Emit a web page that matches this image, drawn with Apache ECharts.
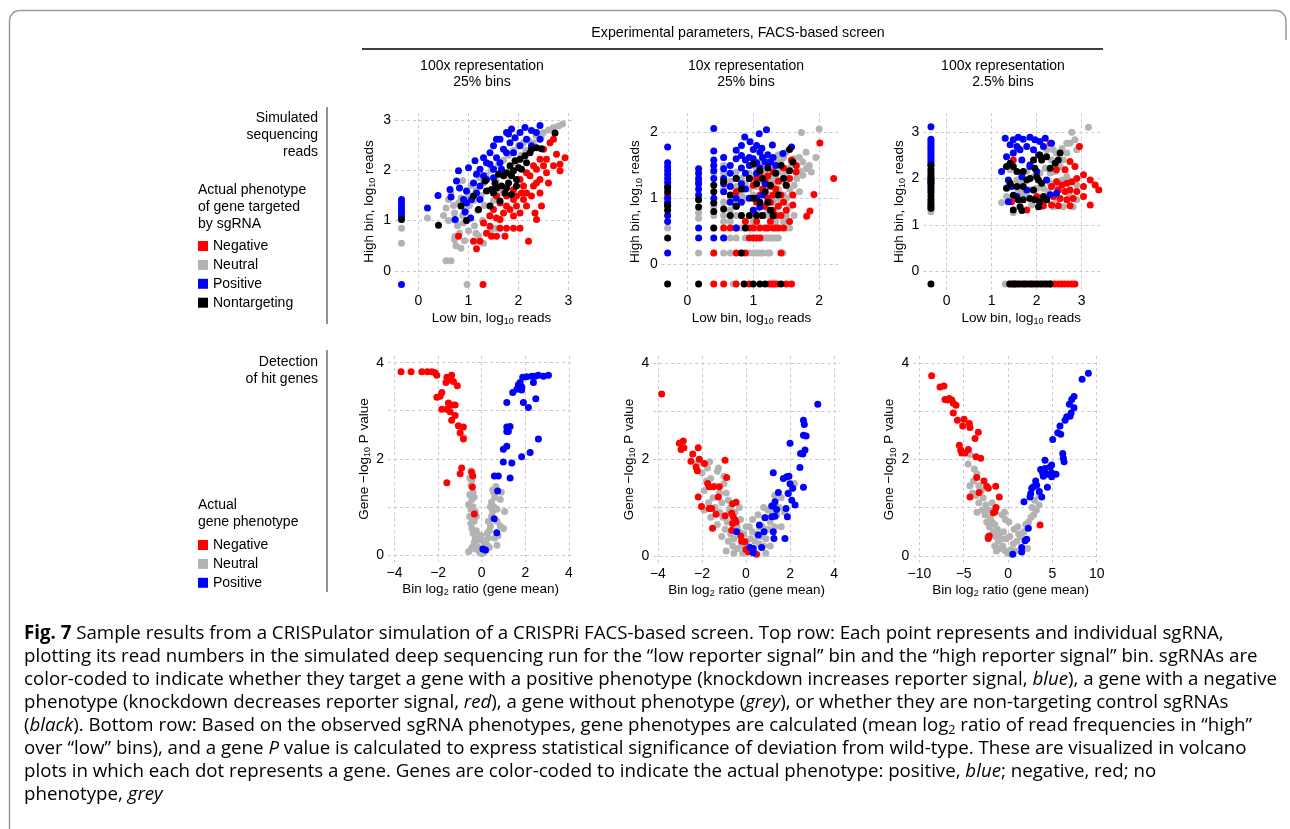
<!DOCTYPE html>
<html><head><meta charset="utf-8">
<script src="https://cdn.jsdelivr.net/npm/echarts@6/dist/echarts.min.js"></script>
<style>html,body{margin:0;padding:0;background:#fff}#c{width:1290px;height:829px}</style>
</head><body><div id="c"></div>
<script>
// ---------- categories ----------
const categoriesTop = ['Negative', 'Neutral', 'Positive', 'Nontargeting'];
const categoriesBottom = ['Negative', 'Neutral', 'Positive'];

// ---------- tick values ----------
const ticksTL = [0, 1, 2, 3];
const ticksTM = [0, 1, 2];
const ticksTR = [0, 1, 2, 3];
const ticksBX = [-4, -2, 0, 2, 4];
const ticksBRX = [-10, -5, 0, 5, 10];
const ticksBY = [0, 1, 2, 3, 4];
const labelsBY = [0, 2, 4];

// ---------- Top-left: 100x representation, 25% bins (low, high log10 reads) ----------
const tlNeutral = [[-0.34,0.85],[-0.34,0.55],[0.97,-0.27],[0.18,1.05],[0.5,1.1],[0.55,1.25],[0.6,1.0],[0.6,1.42],[0.65,1.55],[0.7,1.3],[0.72,1.15],[0.75,1.0],[0.78,0.9],[0.8,1.35],[0.82,0.75],[0.85,1.45],[0.88,1.1],[0.88,1.8],[0.9,0.95],[0.92,0.6],[0.95,1.2],[0.98,1.55],[1.0,0.8],[1.0,1.45],[1.02,1.3],[1.05,1.7],[1.05,1.05],[1.1,1.4],[1.12,0.9],[1.15,1.6],[1.15,0.75],[1.18,1.2],[1.2,0.7],[1.22,1.85],[1.25,1.5],[1.28,1.0],[1.3,1.75],[1.3,0.55],[1.32,1.3],[1.35,1.9],[1.4,1.6],[1.42,1.1],[1.45,2.0],[1.45,0.8],[1.5,1.4],[1.55,1.8],[1.55,0.85],[1.6,2.1],[1.65,1.55],[1.7,2.2],[1.75,1.9],[1.8,2.3],[1.85,2.0],[1.9,2.4],[1.95,2.15],[2.0,2.5],[2.05,2.3],[2.1,2.55],[2.15,2.4],[2.2,2.6],[2.3,2.55],[2.35,2.7],[2.45,2.65],[2.5,2.75],[2.6,2.8],[2.7,2.85],[2.8,2.88],[2.88,2.92],[0.55,0.2],[0.65,0.2],[0.75,0.5],[0.85,0.45],[0.73,0.69],[0.72,0.62]];
const tlNegative = [[1.29,-0.27],[0.8,0.69],[1.1,0.59],[1.16,0.44],[1.23,0.59],[1.36,0.75],[1.46,0.69],[1.56,0.69],[1.73,0.69],[1.63,0.85],[1.76,0.85],[1.9,0.85],[2.03,0.85],[2.36,1.02],[2.2,0.59],[1.43,1.09],[1.56,1.05],[1.7,1.15],[1.83,1.22],[1.96,1.29],[2.1,1.42],[2.16,1.55],[2.3,1.69],[2.43,1.82],[2.56,1.95],[2.7,2.09],[2.83,2.12],[2.93,2.25],[2.76,2.32],[2.63,2.55],[2.7,2.62],[2.5,2.42],[2.43,2.22],[2.3,2.09],[2.16,1.95],[2.03,1.82],[1.9,1.62],[1.76,1.49],[1.63,1.35],[1.76,1.29],[1.96,1.49],[2.1,1.69],[2.23,1.89],[2.36,2.02],[2.5,2.09],[2.56,2.22],[2.26,1.49],[2.43,1.55],[2.16,1.29],[2.03,1.15],[1.9,1.09],[1.5,1.22],[1.3,0.95],[1.43,0.89],[1.9,1.42],[2.06,1.55],[2.36,1.75],[2.6,1.75],[2.83,1.99],[2.46,1.29],[2.33,1.15],[1.63,1.02],[1.56,1.49]];
const tlPositive = [[-0.34,-0.27],[-0.34,1.42],[-0.34,1.35],[-0.34,1.28],[-0.34,1.22],[-0.34,1.15],[-0.34,1.09],[0.18,1.25],[0.39,1.5],[0.65,1.47],[0.63,1.62],[0.8,1.99],[0.82,1.65],[0.93,1.17],[1.0,2.05],[1.04,1.05],[1.13,2.19],[1.16,1.92],[1.23,2.02],[1.3,2.25],[1.36,2.15],[1.43,2.35],[1.5,2.49],[1.56,2.25],[1.63,2.62],[1.7,2.42],[1.76,2.75],[1.83,2.55],[1.86,2.82],[1.93,2.65],[2.03,2.75],[2.13,2.85],[2.26,2.79],[2.36,2.75],[2.43,2.62],[1.63,2.15],[1.5,2.02],[1.36,1.82],[1.23,1.69],[1.1,1.75],[0.96,1.59],[0.9,1.42],[1.06,1.42],[0.76,1.79],[1.76,2.35],[1.9,2.35],[2.03,2.49],[2.16,2.62],[1.56,2.62],[1.8,2.72],[1.43,2.12],[1.3,1.89],[1.16,1.55],[1.5,1.85],[1.66,2.02],[1.23,1.42],[0.96,1.35],[0.73,1.02],[2.43,2.89],[2.26,2.49]];
const tlNontargeting = [[-0.34,1.02],[0.4,0.91],[0.85,1.29],[0.96,1.0],[1.1,1.49],[1.2,1.22],[1.33,1.79],[1.36,1.59],[1.43,1.29],[1.5,1.55],[1.53,1.75],[1.6,1.92],[1.66,1.69],[1.7,1.89],[1.76,1.95],[1.8,1.75],[1.83,2.09],[1.86,1.89],[1.9,1.99],[1.93,2.19],[1.96,1.82],[2.0,2.05],[2.03,2.22],[2.06,2.02],[2.13,2.29],[2.16,2.15],[2.23,2.35],[2.26,2.42],[2.36,2.45],[2.46,2.43],[2.73,2.74],[1.86,1.52],[1.63,1.39],[1.73,1.55],[1.56,1.65],[1.46,1.62],[1.76,1.65],[1.96,1.69]];

// ---------- Top-middle: 10x representation, 25% bins ----------
const tmNeutral = [[-0.3,0.55],[0.17,0.17],[0.17,0.7],[0.17,0.78],[0.17,1.0],[0.4,0.17],[0.4,0.55],[0.4,0.74],[0.4,0.88],[0.4,1.38],[0.55,0.17],[0.55,0.4],[0.55,0.65],[0.55,0.74],[0.55,0.94],[0.55,1.14],[0.55,1.38],[0.55,1.5],[0.65,0.17],[0.65,0.4],[0.65,0.65],[0.65,0.82],[0.65,1.0],[0.65,1.26],[0.74,0.4],[0.74,0.74],[0.74,0.94],[0.74,1.18],[0.74,1.4],[0.82,0.17],[0.82,0.55],[0.82,0.74],[0.82,1.05],[0.82,1.3],[0.7,-0.3],[0.88,0.4],[0.88,0.55],[0.88,1.0],[0.88,1.22],[0.94,0.17],[0.94,0.74],[0.94,1.14],[0.94,1.38],[1.0,0.17],[1.0,0.65],[1.0,1.05],[1.0,1.3],[1.0,1.5],[1.05,0.17],[1.05,0.55],[1.05,0.82],[1.05,1.18],[1.05,1.46],[1.1,0.17],[1.1,0.74],[1.1,0.94],[1.1,1.26],[1.1,1.55],[1.14,0.17],[1.14,0.4],[1.14,0.88],[1.14,1.34],[1.14,1.5],[1.18,0.4],[1.18,0.74],[1.18,1.05],[1.18,1.42],[1.22,0.17],[1.22,0.4],[1.22,0.82],[1.22,1.18],[1.22,1.5],[1.26,0.4],[1.26,0.74],[1.26,1.05],[1.26,1.3],[1.26,1.58],[1.3,0.4],[1.3,0.94],[1.3,1.22],[1.3,1.5],[1.34,0.4],[1.34,0.65],[1.34,1.0],[1.34,1.3],[1.34,1.6],[1.38,0.4],[1.38,0.74],[1.38,1.14],[1.38,1.4],[1.38,1.66],[1.42,0.55],[1.42,0.94],[1.42,1.26],[1.42,1.55],[1.46,0.65],[1.46,1.05],[1.46,1.34],[1.46,1.62],[1.5,0.55],[1.5,0.74],[1.5,1.0],[1.5,1.4],[1.5,1.7],[1.55,0.88],[1.55,1.14],[1.55,1.46],[1.58,1.05],[1.58,1.55],[1.62,0.74],[1.62,1.2],[1.62,1.6],[1.66,1.3],[1.66,1.5],[1.7,1.1],[1.7,1.42],[1.7,1.62],[1.75,1.35],[1.75,1.55],[1.8,1.45],[1.8,1.7],[1.85,1.5],[1.88,1.4],[1.73,2.0],[2.0,2.05],[1.95,1.62],[1.55,0.55],[1.45,0.17],[1.25,0.17]];
const tmNegative = [[-0.3,1.05],[0.17,1.25],[0.4,0.17],[0.4,-0.3],[0.55,0.55],[0.55,-0.3],[0.65,0.55],[0.74,0.55],[0.74,0.17],[0.74,-0.3],[0.74,1.1],[0.88,0.65],[0.88,0.17],[0.94,0.55],[0.94,0.4],[0.94,-0.3],[1.0,0.55],[1.0,0.4],[1.0,0.82],[1.0,1.2],[1.05,0.4],[1.05,0.65],[1.05,0.94],[1.05,1.3],[1.1,0.55],[1.1,0.4],[1.1,1.05],[1.1,1.4],[1.14,0.74],[1.14,1.14],[1.18,0.55],[1.24,-0.3],[1.18,0.88],[1.18,1.26],[1.22,0.55],[1.28,-0.3],[1.22,1.0],[1.22,1.34],[1.26,0.65],[1.26,0.94],[1.26,1.18],[1.3,0.55],[1.32,-0.3],[1.3,0.82],[1.3,1.05],[1.3,1.4],[1.34,0.55],[1.34,0.74],[1.34,1.14],[1.38,0.55],[1.38,0.88],[1.38,1.26],[1.36,-0.3],[1.42,0.17],[1.42,0.74],[1.42,1.05],[1.46,0.55],[1.5,-0.3],[1.46,0.94],[1.46,1.46],[1.5,0.82],[1.5,1.2],[1.58,-0.3],[1.55,0.65],[1.55,1.3],[1.58,1.58],[1.6,0.9],[1.6,1.05],[1.65,1.4],[1.81,0.73],[1.86,0.81],[1.92,1.06],[2.01,1.84],[2.22,1.3],[1.65,1.5]];
const tmPositive = [[-0.3,1.78],[-0.3,1.54],[-0.3,1.48],[-0.3,1.42],[-0.3,1.36],[-0.3,1.3],[-0.3,1.24],[-0.3,1.18],[-0.3,1.0],[-0.3,0.94],[-0.3,0.88],[-0.3,0.74],[-0.3,0.65],[-0.3,0.17],[0.17,1.45],[0.17,1.38],[0.17,1.3],[0.17,1.22],[0.17,1.14],[0.17,1.05],[0.17,0.55],[0.17,0.4],[0.4,2.06],[0.4,1.72],[0.4,1.58],[0.4,1.5],[0.4,1.42],[0.4,1.3],[0.4,1.0],[0.4,0.4],[0.55,1.62],[0.55,1.45],[0.55,1.3],[0.55,1.22],[0.55,1.1],[0.55,0.4],[0.65,1.5],[0.65,1.38],[0.65,1.18],[0.65,0.94],[0.74,1.73],[0.74,1.6],[0.74,1.3],[0.74,1.0],[0.74,0.88],[0.74,0.55],[0.82,1.8],[0.82,1.65],[0.82,1.46],[0.82,1.22],[0.82,0.94],[0.87,1.93],[0.88,1.58],[0.88,1.38],[0.88,1.14],[0.95,1.86],[0.94,1.62],[0.94,1.5],[0.94,1.3],[0.94,1.0],[1.0,1.74],[1.0,1.6],[1.0,0.82],[1.05,1.8],[1.05,1.54],[1.05,1.38],[1.05,1.0],[1.09,1.98],[1.1,1.7],[1.1,1.46],[1.1,0.87],[1.13,1.76],[1.14,1.62],[1.14,1.05],[1.2,2.04],[1.18,1.55],[1.18,1.22],[1.22,1.66],[1.26,1.55],[1.29,1.81],[1.3,1.62],[1.34,1.5],[1.45,1.68],[1.58,1.78]];
const tmNontargeting = [[-0.3,1.16],[-0.3,1.1],[-0.3,0.9],[-0.3,0.82],[-0.3,0.4],[-0.3,-0.3],[0.17,0.98],[0.17,0.87],[0.17,-0.3],[0.4,1.2],[0.4,1.1],[0.4,0.93],[0.4,0.8],[0.4,0.55],[0.55,1.25],[0.55,0.84],[0.65,1.05],[0.65,0.74],[0.74,1.3],[0.74,0.88],[0.82,0.74],[0.82,1.14],[0.86,-0.3],[0.88,0.55],[0.82,0.17],[0.94,1.3],[0.94,0.74],[1.0,-0.3],[1.0,1.52],[1.0,1.0],[1.05,0.74],[1.05,1.22],[1.1,-0.3],[1.1,1.42],[1.1,0.94],[1.14,1.3],[1.18,-0.3],[1.18,1.1],[1.22,1.46],[1.22,0.94],[1.26,1.2],[1.3,0.74],[1.34,1.38],[1.38,1.05],[1.42,-0.3],[1.42,1.5],[1.46,1.3],[1.5,1.2],[1.55,1.42],[1.55,1.74],[1.6,1.55],[1.26,0.82],[1.14,0.74]];

// ---------- Top-right: 100x representation, 2.5% bins ----------
const trNeutral = [[-0.35,1.28],[-0.35,1.34],[1.3,-0.28],[1.38,-0.28],[1.22,1.48],[1.48,1.26],[1.41,2.19],[1.37,1.83],[1.67,1.9],[1.78,2.15],[1.93,2.04],[2.07,2.12],[2.19,2.22],[2.3,2.12],[2.41,2.15],[2.52,2.26],[2.59,2.4],[2.67,2.55],[2.74,2.76],[2.78,3.0],[2.85,2.84],[2.89,2.62],[3.15,3.11],[2.67,2.76],[2.56,2.65],[2.44,2.55],[2.33,2.4],[2.67,2.04],[2.89,1.86],[2.56,1.97],[2.41,1.83],[2.26,1.72],[2.15,1.79],[2.0,1.79],[1.85,1.75],[1.78,1.61],[1.7,1.68],[1.56,1.97],[1.59,1.72],[1.89,1.43],[2.37,1.39],[2.59,1.39],[2.81,1.39],[2.44,1.54],[2.3,1.9],[2.74,1.61],[2.11,1.39],[1.33,1.61],[1.48,2.55],[2.22,2.62],[2.37,2.62],[2.89,1.54]];
const trNegative = [[-0.35,1.95],[2.3,2.76],[1.59,2.65],[2.74,2.37],[2.95,2.69],[3.04,2.08],[3.19,1.97],[3.3,1.86],[3.38,1.75],[3.19,1.43],[2.89,2.0],[2.78,1.93],[2.67,1.9],[2.56,1.86],[2.44,1.93],[2.33,1.83],[2.74,1.75],[2.89,1.72],[3.04,1.83],[2.63,1.72],[2.48,1.75],[2.37,1.61],[2.52,1.57],[2.67,1.54],[2.81,1.57],[2.21,1.54],[2.33,1.43],[2.48,1.41],[2.74,1.41],[2.15,1.41],[2.0,1.61],[2.63,2.19],[2.85,2.26],[2.44,2.19],[1.78,1.32],[1.44,1.5],[1.48,2.4],[2.11,2.44],[3.04,1.61],[1.45,-0.28],[1.55,-0.28],[1.65,-0.28],[1.8,-0.28],[1.95,-0.28],[2.05,-0.28],[2.15,-0.28],[2.25,-0.28],[2.32,-0.28],[2.4,-0.28],[2.48,-0.28],[2.55,-0.28],[2.62,-0.28],[2.7,-0.28],[2.78,-0.28],[2.85,-0.28]];
const trPositive = [[-0.35,3.12],[-0.35,2.85],[-0.35,2.8],[-0.35,2.75],[-0.35,2.7],[-0.35,2.65],[-0.35,2.6],[-0.35,2.55],[-0.35,2.5],[-0.35,2.45],[-0.35,2.4],[-0.35,2.35],[-0.35,2.3],[-0.35,2.15],[-0.35,2.0],[-0.35,1.9],[-0.35,1.8],[1.3,2.87],[1.41,2.73],[1.48,2.84],[1.59,2.89],[1.7,2.85],[1.85,2.89],[1.96,2.84],[2.07,2.8],[2.19,2.87],[1.33,2.47],[1.48,2.55],[1.63,2.62],[1.78,2.69],[1.93,2.62],[2.04,2.51],[1.67,2.4],[1.85,2.29],[1.37,1.97],[1.44,1.83],[1.56,1.61],[1.37,1.5],[1.67,2.04],[1.85,2.26],[2.0,2.15],[2.22,1.97],[2.3,1.65],[2.44,1.68],[1.78,1.75],[1.22,2.15],[1.56,2.69],[2.15,2.69],[2.33,2.76]];
const trNontargeting = [[-0.35,2.28],[-0.35,2.2],[-0.35,2.1],[-0.35,2.05],[-0.35,1.98],[-0.35,1.92],[-0.35,1.85],[-0.35,1.75],[-0.35,1.7],[-0.35,1.62],[-0.35,1.55],[-0.35,1.5],[-0.35,1.45],[-0.35,1.4],[-0.35,1.36],[-0.35,-0.28],[1.4,-0.28],[1.48,-0.28],[1.52,-0.28],[1.6,-0.28],[1.7,-0.28],[1.75,-0.28],[1.85,-0.28],[1.9,-0.28],[2.0,-0.28],[2.1,-0.28],[2.2,-0.28],[2.3,-0.28],[1.41,2.33],[1.33,2.26],[1.48,2.26],[1.56,2.15],[1.7,2.15],[1.85,2.0],[2.0,2.04],[2.04,1.97],[2.11,1.9],[1.93,1.75],[1.78,1.97],[1.7,1.83],[1.56,1.83],[1.41,1.9],[1.33,1.79],[1.48,1.64],[1.59,1.54],[1.7,1.54],[1.85,1.57],[1.96,1.54],[2.07,1.5],[2.15,1.61],[2.22,1.54],[1.63,1.39],[2.04,1.39],[2.3,2.22],[2.41,2.33],[2.48,2.4],[2.52,2.55],[2.22,2.47],[2.07,2.51],[2.11,2.4],[1.93,2.4],[1.96,2.22],[1.48,1.32],[1.67,1.31]];

// ---------- Bottom-left: volcano (bin log2 ratio, gene -log10 P) ----------
const blNeutral = [[-0.6,0.07],[-0.45,0.15],[-0.35,0.25],[-0.3,0.35],[-0.4,0.45],[-0.45,0.55],[-0.5,0.65],[-0.35,0.7],[-0.55,0.8],[-0.5,0.95],[-0.4,1.0],[-0.6,1.05],[-0.45,1.15],[-0.55,1.25],[-0.4,1.3],[-0.5,1.45],[-0.45,1.55],[-0.55,1.6],[-0.5,1.75],[-0.25,0.5],[-0.2,0.3],[-0.15,0.15],[-0.1,0.05],[0.0,0.02],[0.1,0.05],[0.2,0.1],[0.25,0.2],[0.3,0.35],[0.35,0.5],[0.4,0.6],[0.3,0.7],[0.45,0.8],[0.5,0.9],[0.55,1.0],[0.45,1.1],[0.6,1.2],[0.55,1.3],[0.65,1.42],[0.7,0.95],[0.85,0.6],[1.0,0.55],[0.85,1.15],[0.9,1.3],[1.05,0.9],[0.25,0.45],[0.15,0.25],[-0.3,0.9],[-0.35,1.2],[-0.25,0.8],[0.6,0.35],[0.7,0.2],[0.35,0.15],[-0.3,0.12],[0.05,0.3],[-0.05,0.4],[0.4,1.0],[0.5,1.35],[-0.84,2.45],[0.7,0.7],[0.75,0.4]];
const blNegative = [[-3.7,3.81],[-3.24,3.81],[-2.75,3.81],[-2.49,3.81],[-2.29,3.81],[-2.14,3.79],[-2.06,3.74],[-1.6,3.7],[-1.38,3.74],[-1.45,3.64],[-1.64,3.59],[-1.3,3.61],[-1.12,3.52],[-1.83,3.38],[-2.06,3.28],[-1.91,3.3],[-1.53,3.16],[-1.38,3.12],[-1.22,3.12],[-1.83,3.03],[-1.6,3.03],[-1.45,2.98],[-1.22,2.9],[-1.38,2.8],[-1.07,2.69],[-0.84,2.66],[-0.99,2.54],[-0.84,2.41],[-0.92,1.81],[-0.99,1.69],[-1.6,1.5],[-0.46,1.72],[-0.41,1.64],[-0.43,1.41],[-0.34,0.85]];
const blPositive = [[3.06,3.74],[2.83,3.72],[2.6,3.74],[2.45,3.72],[2.29,3.72],[2.06,3.71],[1.88,3.7],[2.37,3.59],[1.76,3.59],[1.68,3.54],[1.83,3.5],[1.61,3.45],[1.42,3.38],[1.83,3.43],[2.48,3.25],[1.15,3.17],[1.91,3.17],[2.14,3.07],[1.3,2.67],[1.15,2.66],[1.22,2.57],[1.15,2.57],[2.6,2.41],[0.99,2.2],[1.15,2.26],[2.22,2.13],[1.83,2.04],[0.99,1.93],[1.38,1.91],[0.76,1.64],[0.58,1.64],[1.3,1.6],[0.73,1.33],[0.57,0.75],[0.69,0.46],[0.05,0.12],[0.17,0.1]];

// ---------- Bottom-middle ----------
const bmNeutral = [[-2.2,1.92],[-1.75,1.82],[-1.25,1.82],[-2.0,1.72],[-1.8,1.55],[-1.6,1.6],[-1.4,1.45],[-1.9,1.35],[-1.2,1.3],[-1.0,1.5],[-1.5,1.2],[-0.9,1.3],[-1.7,1.1],[-1.1,1.1],[-0.8,1.15],[-1.4,1.0],[-1.9,0.95],[-1.2,0.9],[-0.75,0.95],[-1.05,0.8],[-1.6,0.8],[-0.85,0.7],[-1.3,0.65],[-0.95,0.55],[-0.7,0.45],[-1.1,0.4],[-0.8,0.3],[-0.55,0.35],[-0.4,0.6],[-0.3,0.5],[-0.6,0.2],[-0.9,0.1],[-0.4,0.15],[-0.2,0.2],[-0.1,0.45],[0.0,0.3],[0.1,0.2],[0.2,0.35],[0.3,0.5],[0.15,0.6],[0.4,0.3],[0.5,0.45],[0.6,0.25],[0.7,0.4],[0.25,0.1],[0.8,0.2],[0.9,0.35],[1.0,0.55],[0.75,0.6],[1.1,0.7],[0.9,0.8],[1.3,0.6],[1.4,0.85],[1.2,0.9],[1.5,1.0],[1.6,1.2],[1.3,1.25],[1.75,0.9],[1.9,1.3],[2.1,1.4],[2.2,1.5],[1.0,0.95],[0.55,0.85],[0.3,0.75],[-0.5,0.9],[-0.25,0.75],[0.0,0.6],[-0.55,0.05],[-0.7,1.0],[-0.3,1.0],[0.4,0.05],[0.9,0.05],[1.1,0.2],[-1.3,1.75],[-1.65,1.95],[-1.0,1.65],[0.6,0.6],[1.6,0.6],[0.8,1.0],[-0.15,0.05]];
const bmNegative = [[-3.83,3.35],[-3.03,2.33],[-2.85,2.38],[-2.95,2.2],[-2.82,2.24],[-2.42,2.11],[-2.5,1.96],[-2.17,2.24],[-2.12,2.0],[-2.27,1.84],[-2.21,1.76],[-1.89,1.91],[-1.74,1.5],[-1.67,1.43],[-1.48,1.43],[-2.17,1.22],[-2.02,1.02],[-1.21,1.43],[-1.26,1.22],[-1.56,0.98],[-1.67,0.98],[-1.36,0.86],[-1.52,0.57],[-0.95,1.98],[-0.88,1.62],[-0.95,0.83],[-0.61,1.08],[-0.45,1.11],[-0.65,0.88],[-0.58,0.81],[-0.5,0.74],[-0.61,0.67],[-0.65,0.53],[-0.24,0.41],[-0.2,0.3],[-0.05,0.29],[0.0,0.13],[0.11,0.08],[0.48,0.03],[-0.45,0.7]];
const bmPositive = [[3.26,3.14],[2.61,2.81],[2.65,2.72],[2.61,2.5],[2.73,2.48],[2.68,2.19],[2.0,2.33],[2.48,2.12],[2.58,2.11],[2.45,1.83],[2.61,1.42],[1.95,1.65],[1.85,1.64],[1.7,1.6],[1.24,1.72],[2.0,1.49],[2.12,1.4],[1.92,1.29],[1.47,1.31],[1.32,1.12],[1.24,1.03],[1.17,1.03],[1.39,0.96],[1.82,0.98],[2.08,1.15],[2.23,1.05],[1.32,0.82],[1.17,0.81],[1.88,0.81],[0.86,0.79],[0.61,0.64],[0.82,0.5],[1.24,0.5],[1.27,0.36],[1.77,0.36],[0.56,0.43],[-0.42,0.5],[0.18,0.17],[0.33,0.15],[0.71,0.17],[0.33,0.06]];

// ---------- Bottom-right ----------
const brNeutral = [[-4.5,1.9],[-4.3,2.1],[-3.8,1.8],[-3.5,1.7],[-3.9,1.55],[-3.3,1.45],[-4.0,1.3],[-3.0,1.35],[-2.8,1.2],[-3.3,1.1],[-2.5,1.05],[-2.9,0.95],[-2.2,0.95],[-2.6,0.85],[-3.5,0.9],[-2.0,0.8],[-2.4,0.7],[-1.8,0.7],[-2.1,0.6],[-1.5,0.65],[-1.7,0.5],[-1.2,0.55],[-1.4,0.4],[-1.0,0.45],[-1.1,0.3],[-0.8,0.35],[-0.6,0.2],[-0.9,0.15],[-0.3,0.1],[-1.3,0.1],[0.0,0.05],[0.3,0.12],[0.6,0.25],[-0.5,0.5],[-0.2,0.35],[0.2,0.4],[0.8,0.1],[1.0,0.3],[1.2,0.45],[1.5,0.4],[1.8,0.5],[2.0,0.65],[2.3,0.7],[2.6,0.8],[2.9,0.85],[3.2,0.95],[3.5,1.05],[2.7,1.0],[3.0,1.15],[-1.6,0.95],[-1.8,1.1],[-0.3,0.75],[-0.7,0.85],[0.1,0.7],[-2.3,0.4],[-1.5,0.2],[1.1,0.6],[0.7,0.55],[-4.3,1.45],[-3.6,1.25],[2.2,0.15],[3.5,1.25],[-0.4,0.9],[1.5,0.1]];
const brNegative = [[-8.61,3.73],[-7.67,3.5],[-7.22,3.52],[-7.11,3.24],[-6.84,3.23],[-6.62,3.26],[-6.35,3.23],[-6.17,3.16],[-5.86,3.12],[-6.17,2.96],[-5.71,2.81],[-4.96,2.83],[-5.11,2.69],[-4.36,2.74],[-4.29,2.66],[-3.35,2.56],[-3.72,2.43],[-5.49,2.29],[-5.34,2.19],[-5.23,2.13],[-4.85,2.13],[-4.47,2.2],[-3.61,2.05],[-3.08,2.02],[-3.53,1.62],[-4.29,1.22],[-3.27,1.31],[-2.71,1.55],[-2.41,1.44],[-2.22,1.4],[-1.39,1.44],[-0.98,1.22],[-1.65,0.89],[-1.47,0.91],[-1.35,1.0],[-2.22,0.36],[-2.11,0.41],[3.61,0.64]];
const brPositive = [[9.06,3.78],[8.35,3.66],[7.44,3.3],[7.18,3.24],[6.92,3.14],[7.44,3.07],[7.11,2.96],[6.99,2.89],[6.62,2.88],[6.43,2.81],[5.86,2.69],[5.6,2.55],[5.94,2.52],[5.04,2.41],[6.17,2.12],[6.24,2.02],[6.32,1.95],[4.17,1.98],[4.92,1.88],[4.74,1.84],[4.17,1.81],[3.68,1.79],[3.91,1.71],[4.36,1.69],[4.92,1.72],[5.41,1.69],[4.92,1.64],[3.98,1.65],[3.12,1.55],[2.86,1.43],[2.67,1.4],[3.23,1.46],[4.44,1.42],[3.53,1.33],[2.56,1.29],[2.48,1.22],[3.8,1.22],[1.8,1.12],[2.29,0.57],[2.11,0.34],[1.92,0.31],[1.54,0.17],[1.54,0.08],[0.53,0.03]];

// ---------- styles ----------
const F = "'Liberation Sans', Arial, Helvetica, sans-serif";
const CF = "'Open Sans', 'Noto Sans', sans-serif";
const COLORS = { Negative: '#ff0000', Neutral: '#b3b3b3', Positive: '#0000ff', Nontargeting: '#000000' };
const GRIDC = '#c6c6de';

const nameRich = {
  a: { fontSize: 13.5, fontFamily: F, color: '#000', lineHeight: 16 },
  s: { fontSize: 9, fontFamily: F, color: '#000', lineHeight: 8, verticalAlign: 'bottom' }
};
const LOWNAME = '{a|Low bin, log}{s|10}{a| reads}';
const HIGHNAME = '{a|High bin, log}{s|10}{a| reads}';
const RATIONAME = '{a|Bin log}{s|2}{a| ratio (gene mean)}';
const PNAME = '{a|Gene \u2212log}{s|10}{a| P value}';

const panels = [
  { box: [395, 113, 178, 177], xr: [-0.47, 3.09], yr: [-0.38, 3.14], xt: ticksTL, xl: ticksTL, yt: ticksTL, yl: ticksTL, xn: LOWNAME, yn: HIGHNAME, xpad: 15, xgap: 20, ygap: 18,
    s: { Neutral: tlNeutral, Negative: tlNegative, Positive: tlPositive, Nontargeting: tlNontargeting } },
  { box: [661.7, 113.3, 176.6, 176.7], xr: [-0.39, 2.29], yr: [-0.39, 2.29], xt: ticksTM, xl: ticksTM, yt: ticksTM, yl: ticksTM, xn: LOWNAME, yn: HIGHNAME, xpad: 3, xgap: 20, ygap: 18,
    s: { Neutral: tmNeutral, Negative: tmNegative, Positive: tmPositive, Nontargeting: tmNontargeting } },
  { box: [923.3, 113.3, 180, 176.7], xr: [-0.52, 3.48], yr: [-0.41, 3.41], xt: ticksTR, xl: ticksTR, yt: ticksTR, yl: ticksTR, xn: LOWNAME, yn: HIGHNAME, xpad: 16, xgap: 20, ygap: 16,
    s: { Neutral: trNeutral, Negative: trNegative, Positive: trPositive, Nontargeting: trNontargeting } },
  { box: [388, 356, 185.3, 206], xr: [-4.3, 4.2], yr: [-0.15, 4.14], xt: ticksBX, xl: ticksBX, yt: ticksBY, yl: labelsBY, xn: RATIONAME, yn: PNAME, xpad: 0, xgap: 19, ygap: 16,
    s: { Neutral: blNeutral, Negative: blNegative, Positive: blPositive } },
  { box: [653.3, 356, 186.7, 207], xr: [-4.21, 4.27], yr: [-0.15, 4.14], xt: ticksBX, xl: ticksBX, yt: ticksBY, yl: labelsBY, xn: RATIONAME, yn: PNAME, xpad: 0, xgap: 19, ygap: 16,
    s: { Neutral: bmNeutral, Negative: bmNegative, Positive: bmPositive } },
  { box: [913.3, 356, 186.7, 207], xr: [-10.68, 10.37], yr: [-0.15, 4.14], xt: ticksBRX, xl: ticksBRX, yt: ticksBY, yl: labelsBY, xn: RATIONAME, yn: PNAME, xpad: 8, xgap: 19, ygap: 12,
    s: { Neutral: brNeutral, Negative: brNegative, Positive: brPositive } }
];

const fmt = v => String(v).replace('-', '\u2212');
const grids = [], xAxes = [], yAxes = [], series = [];
panels.forEach((p, i) => {
  grids.push({ left: p.box[0], top: p.box[1], width: p.box[2], height: p.box[3], containLabel: false, outerBoundsMode: 'none' });
  const common = {
    gridIndex: i, type: 'value', scale: false,
    axisLine: { show: false, onZero: false },
    splitLine: { show: true, lineStyle: { color: GRIDC, width: 1, type: [3, 3] } },
    nameLocation: 'middle'
  };
  xAxes.push(Object.assign({}, common, {
    min: p.xr[0], max: p.xr[1],
    axisTick: { show: false, customValues: p.xt },
    axisLabel: { customValues: p.xl, margin: 4, fontSize: 14, fontFamily: F, color: '#000', formatter: fmt },
    name: p.xn, nameGap: p.xgap, nameTextStyle: { rich: nameRich, padding: [0, 0, 0, p.xpad] }
  }));
  yAxes.push(Object.assign({}, common, {
    min: p.yr[0], max: p.yr[1],
    axisTick: { show: false, customValues: p.yt },
    axisLabel: { customValues: p.yl, margin: 4, fontSize: 14, fontFamily: F, color: '#000', formatter: fmt },
    name: p.yn, nameGap: p.ygap, nameTextStyle: { rich: nameRich }
  }));
  ['Neutral', 'Negative', 'Positive', 'Nontargeting'].forEach(k => {
    if (!p.s[k]) return;
    series.push({
      type: 'scatter', name: k, xAxisIndex: i, yAxisIndex: i, data: p.s[k],
      symbol: 'circle', symbolSize: 7, itemStyle: { color: COLORS[k], opacity: 1 }, silent: true
    });
  });
});

function txt(text, x, y, size, align, extra) {
  return { type: 'text', x: x, y: y, silent: true, style: Object.assign({
    text: text, fill: '#000', font: size + 'px ' + F, fontSize: size, fontFamily: F,
    textAlign: align, align: align, textVerticalAlign: 'middle', verticalAlign: 'middle'
  }, extra || {}) };
}

const CS = 18.7;
const capRich = {
  n: { fontFamily: CF, fontSize: CS, color: '#333', lineHeight: 22 },
  b: { fontFamily: CF, fontSize: CS, color: '#111', fontWeight: 'bold', lineHeight: 22 },
  i: { fontFamily: CF, fontSize: CS, color: '#333', fontStyle: 'italic', lineHeight: 22 },
  s: { fontFamily: CF, fontSize: 12.5, color: '#333', lineHeight: 12, verticalAlign: 'bottom' }
};
const captionLines = [
  '{b|Fig. 7}{n| Sample results from a CRISPulator simulation of a CRISPRi FACS-based screen. Top row: Each point represents and individual sgRNA,}',
  '{n|plotting its read numbers in the simulated deep sequencing run for the \u201clow reporter signal\u201d bin and the \u201chigh reporter signal\u201d bin. sgRNAs are}',
  '{n|color-coded to indicate whether they target a gene with a positive phenotype (knockdown increases reporter signal, }{i|blue}{n|), a gene with a negative}',
  '{n|phenotype (knockdown decreases reporter signal, }{i|red}{n|), a gene without phenotype (}{i|grey}{n|), or whether they are non-targeting control sgRNAs}',
  '{n|(}{i|black}{n|). Bottom row: Based on the observed sgRNA phenotypes, gene phenotypes are calculated (mean log}{s|2}{n| ratio of read frequencies in \u201chigh\u201d}',
  '{n|over \u201clow\u201d bins), and a gene }{i|P}{n| value is calculated to express statistical significance of deviation from wild-type. These are visualized in volcano}',
  '{n|plots in which each dot represents a gene. Genes are color-coded to indicate the actual phenotype: positive, }{i|blue}{n|; negative, red; no}',
  '{n|phenotype, }{i|grey}'
];

const FR = { stroke: '#999', lineWidth: 1.5, fill: 'none' };
const graphics = [
  { type: 'line', silent: true, shape: { x1: 9.5, y1: 20.5, x2: 9.5, y2: 840 }, style: FR },
  { type: 'line', silent: true, shape: { x1: 19.5, y1: 10.5, x2: 1276, y2: 10.5 }, style: FR },
  { type: 'arc', silent: true, shape: { cx: 19.5, cy: 20.5, r: 10, startAngle: Math.PI, endAngle: Math.PI * 1.5, clockwise: true }, style: FR },
  { type: 'arc', silent: true, shape: { cx: 1276, cy: 20.5, r: 10, startAngle: -Math.PI / 2, endAngle: 0, clockwise: true }, style: FR },
  { type: 'line', silent: true, shape: { x1: 1286, y1: 20.5, x2: 1286, y2: 40 }, style: FR },
  txt('Experimental parameters, FACS-based screen', 738, 33, 14.2, 'center'),
  { type: 'line', silent: true, shape: { x1: 362, y1: 49, x2: 1103, y2: 49 }, style: { stroke: '#000', lineWidth: 1.3 } },
  txt('100x representation', 482, 66, 14, 'center'), txt('25% bins', 482, 82, 14, 'center'),
  txt('10x representation', 746, 66, 14, 'center'), txt('25% bins', 746, 82, 14, 'center'),
  txt('100x representation', 1003, 66, 14, 'center'), txt('2.5% bins', 1003, 82, 14, 'center'),
  txt('Simulated', 318, 118, 14, 'right'), txt('sequencing', 318, 135, 14, 'right'), txt('reads', 318, 152, 14, 'right'),
  txt('Actual phenotype', 198, 190, 14, 'left'), txt('of gene targeted', 198, 207, 14, 'left'), txt('by sgRNA', 198, 224, 14, 'left'),
  txt('Detection', 318, 362.5, 14, 'right'), txt('of hit genes', 318, 379.5, 14, 'right'),
  txt('Actual', 198, 505, 14, 'left'), txt('gene phenotype', 198, 522.5, 14, 'left'),
  { type: 'line', silent: true, shape: { x1: 327, y1: 107, x2: 327, y2: 324 }, style: { stroke: '#777', lineWidth: 1.6 } },
  { type: 'line', silent: true, shape: { x1: 327, y1: 350, x2: 327, y2: 592 }, style: { stroke: '#777', lineWidth: 1.6 } }
];
captionLines.forEach((t, k) => {
  graphics.push({ type: 'text', x: 24, y: 634 + 23 * k, silent: true,
    style: { text: t, rich: capRich, textAlign: 'left', align: 'left', textVerticalAlign: 'middle', verticalAlign: 'middle' } });
});

const legendCommon = {
  orient: 'vertical', left: 198, itemWidth: 10, itemHeight: 10, itemGap: 4.9, icon: 'rect', padding: 0,
  selectedMode: false, textStyle: { fontSize: 14, fontFamily: F, color: '#000', padding: [0, 0, 0, 0] }
};

const chart = echarts.init(document.getElementById('c'), null, { renderer: 'canvas' });
chart.setOption({
  animation: false,
  backgroundColor: '#fff',
  grid: grids, xAxis: xAxes, yAxis: yAxes, series: series,
  legend: [
    Object.assign({}, legendCommon, { top: 239, data: categoriesTop }),
    Object.assign({}, legendCommon, { top: 538, data: categoriesBottom })
  ],
  graphic: graphics
});
</script></body></html>
